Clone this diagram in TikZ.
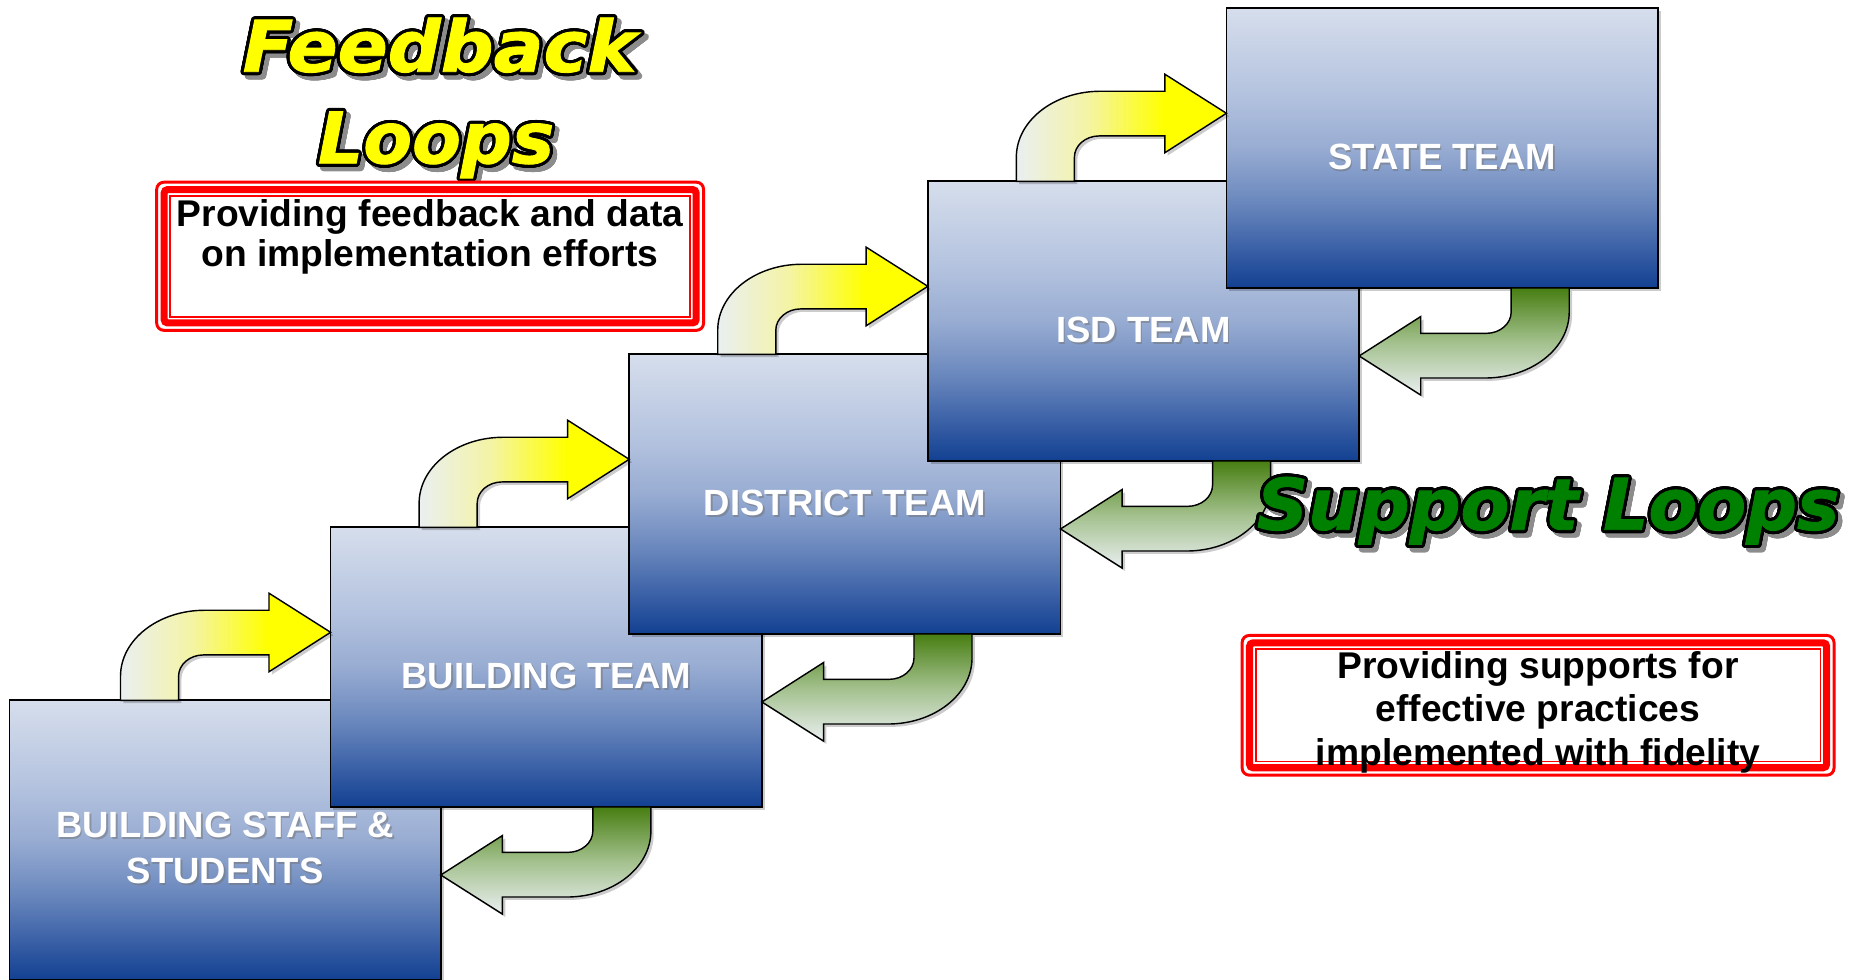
\documentclass[tikz,border=0pt]{standalone}
\usepackage{graphicx}
\usepackage{fontspec}
\setmainfont{Liberation Sans}
\newfontfamily\headfont{DejaVu Sans Bold Oblique}[FakeBold=1.2]
\usepackage[copies]{contour}
\contourlength{1.3pt}
\contournumber{32}
\usetikzlibrary{shadows}

% team box gradient (light at the top, deep blue at the bottom)
\definecolor{teamA}{RGB}{214,222,236}
\definecolor{teamA2}{RGB}{180,195,223}
\definecolor{teamB}{RGB}{152,172,210}
\definecolor{teamB2}{RGB}{104,134,188}
\definecolor{teamC}{RGB}{58,96,166}
\definecolor{teamD}{RGB}{18,64,145}
% arrow colours
\definecolor{paleC}{RGB}{234,239,241}
\definecolor{feedmid}{RGB}{244,244,165}
\definecolor{supmid}{RGB}{162,192,140}
\definecolor{supdark}{RGB}{72,126,18}
\definecolor{loopgreen}{RGB}{0,128,0}
\definecolor{loopyellow}{RGB}{255,255,0}

\pgfdeclareverticalshading{teamfade}{100bp}{color(0bp)=(teamD); color(25bp)=(teamD);
  color(32bp)=(teamC); color(40bp)=(teamB2); color(50bp)=(teamB); color(60bp)=(teamA2);
  color(75bp)=(teamA); color(100bp)=(teamA)}
\pgfdeclarehorizontalshading{feedfade}{100bp}{color(0bp)=(paleC); color(25bp)=(paleC);
  color(42bp)=(feedmid); color(60bp)=(loopyellow); color(100bp)=(loopyellow)}
\pgfdeclareverticalshading{supfade}{100bp}{color(0bp)=(paleC); color(25bp)=(paleC);
  color(50bp)=(supmid); color(75bp)=(supdark); color(100bp)=(supdark)}

\tikzset{
  softshadow/.style={drop shadow={shadow xshift=1.2pt, shadow yshift=-1.2pt, opacity=0.2, fill=black}},
  team/.style={draw=black, line width=0.7pt, shading=teamfade, minimum width=182pt,
    minimum height=118pt, inner sep=0pt, outer sep=0pt, anchor=north west, softshadow},
  tagtext/.style={text=white, font=\bfseries\fontsize{15.4}{17}\selectfont, anchor=base, inner sep=0pt},
  tagshadow/.style={text=black!55, opacity=0.5, font=\bfseries\fontsize{15.4}{17}\selectfont, anchor=base, inner sep=0pt},
  headtext/.style={font=\headfont\fontsize{30}{32}\selectfont, anchor=base, inner sep=0pt},
  notetext/.style={font=\bfseries\fontsize{15.7}{18}\selectfont, anchor=base, inner sep=0pt},
  noteframe/.style={draw=red, line width=1.25pt, rounded corners=3pt, fill=white, inner sep=0pt, outer sep=0pt},
  feedshape/.style={draw=black, line width=0.6pt, shading=feedfade, softshadow},
  supshape/.style={draw=black, line width=0.6pt, shading=supfade, softshadow},
  % bent arrow rising from a lower box into the left side of the next box
  feedarrow/.pic={
    \path[feedshape] (-177.3,0) -- (-177.3,-20.3)
      .. controls (-177.3,-51.1) and (-145.5,-76) .. (-106.3,-76)
      -- (-52,-76) -- (-52,-90.4) -- (0,-57.4) -- (-52,-24.1) -- (-52,-38.3)
      -- (-107.3,-38.3) .. controls (-118.9,-38.3) and (-128.3,-30.2) .. (-128.3,-20.3)
      -- (-128.3,0) -- cycle;
  },
  % bent arrow falling from an upper box into the right side of the box below
  suparrow/.pic={
    \path[supshape] (177.3,0) -- (177.3,20.3)
      .. controls (177.3,51.1) and (145.5,76) .. (106.3,76)
      -- (52,76) -- (52,90.4) -- (0,57.4) -- (52,24.1) -- (52,38.3)
      -- (107.3,38.3) .. controls (118.9,38.3) and (128.3,30.2) .. (128.3,20.3)
      -- (128.3,0) -- cycle;
  }
}

% white box caption with a soft grey shadow
\newcommand\teamtag[4]{%
  \node[tagshadow] (#1-shade) at ([xshift=0.7pt,yshift=#3-0.7pt]#2.center) {#4};
  \node[tagtext] (#1) at ([yshift=#3]#2.center) {#4};}
% outlined heading with a drop shadow; #5 stretches it sideways
\newcommand\looptitle[5]{%
  \node[headtext, text=black!45] (#1-shade) at ([xshift=1.8pt,yshift=-1.8pt]#2)
    {\scalebox{#5}[1]{\contour{black!45}{#4}}};
  \node[headtext, text=#3] (#1) at (#2) {\scalebox{#5}[1]{\contour{black}{#4}}};}
% inner red rules of a note frame
\newcommand\frameinner[1]{%
  \draw[red, line width=3pt, rounded corners=1.5pt]
    ([xshift=3.125pt,yshift=-3.125pt]#1.north west) rectangle ([xshift=-3.125pt,yshift=3.125pt]#1.south east);
  \draw[red, line width=0.75pt]
    ([xshift=5.75pt,yshift=-5.75pt]#1.north west) rectangle ([xshift=-5.75pt,yshift=5.75pt]#1.south east);}

\begin{document}
\begin{tikzpicture}[x=0.5pt, y=-0.5pt]
\useasboundingbox (0,0) rectangle (1568,827);

% the staircase of teams
\node[team] (staff)    at (8,591)   {};
\node[team] (bteam)    at (279,445) {};
\node[team] (district) at (531,299) {};
\node[team] (isd)      at (783,153) {};
\node[team] (state)    at (1035,7)  {};

% feedback loops (upwards)
\pic (fb1) at (bteam.west |- staff.north) {feedarrow};
\pic (fb2) at (district.west |- bteam.north) {feedarrow};
\pic (fb3) at (isd.west |- district.north) {feedarrow};
\pic (fb4) at (state.west |- isd.north) {feedarrow};

% support loops (downwards)
\pic (sp1) at (staff.east |- bteam.south) {suparrow};
\pic (sp2) at (bteam.east |- district.south) {suparrow};
\pic (sp3) at (district.east |- isd.south) {suparrow};
\pic (sp4) at (isd.east |- state.south) {suparrow};

% captions
\teamtag{staff-a}{staff}{1pt}{BUILDING STAFF \&}
\teamtag{staff-b}{staff}{-18.5pt}{STUDENTS}
\teamtag{bteam-t}{bteam}{-9pt}{BUILDING TEAM}
\teamtag{district-t}{district}{-9pt}{DISTRICT TEAM}
\teamtag{isd-t}{isd}{-9pt}{ISD TEAM}
\teamtag{state-t}{state}{-9pt}{STATE TEAM}

% headings
\looptitle{fbhead1}{371,60.5}{loopyellow}{Feedback}{1.04}
\looptitle{fbhead2}{368,137.8}{loopyellow}{Loops}{1}
\looptitle{sphead}{1306.5,447}{loopgreen}{Support Loops}{1}

% note frames
\node[noteframe, minimum width=230.75pt, minimum height=62.5pt] (fbframe) at (363,216.25) {};
\frameinner{fbframe}
\node[notetext] (fbnote1) at (363,191.3) {Providing feedback and data};
\node[notetext] (fbnote2) at (363,225)   {on implementation efforts};

\node[noteframe, minimum width=249.75pt, minimum height=58.95pt] (spframe) at (1298,595.2) {};
\frameinner{spframe}
\node[notetext] (spnote1) at (1298,573)   {Providing supports for};
\node[notetext] (spnote2) at (1298,609)   {effective practices};
\node[notetext] (spnote3) at (1298,645.6) {implemented with fidelity};
\end{tikzpicture}
\end{document}
